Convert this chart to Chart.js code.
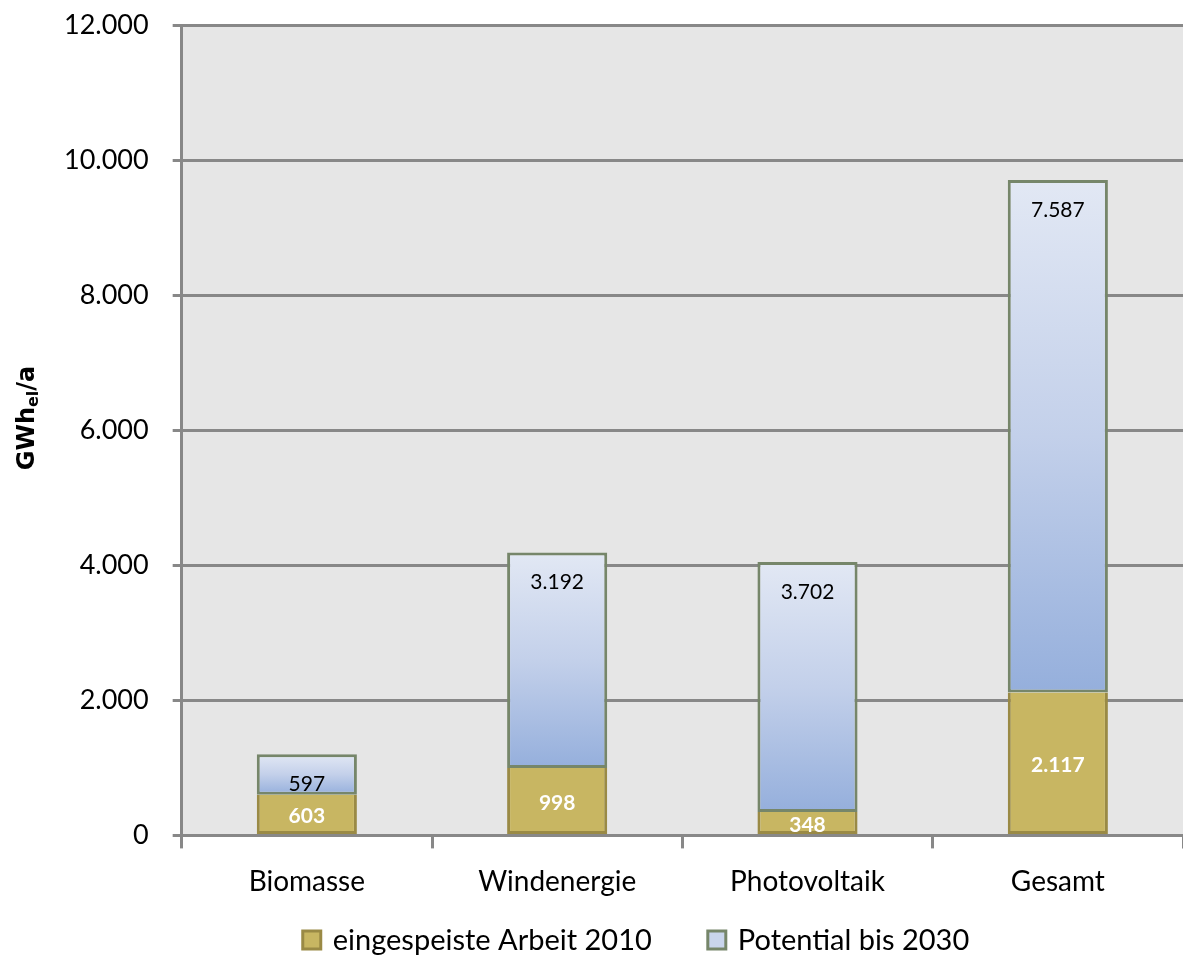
<!DOCTYPE html>
<html>
<head>
<meta charset="utf-8">
<script src="https://cdn.jsdelivr.net/npm/chart.js@4/dist/chart.umd.min.js"></script>
<style>
  html, body { margin: 0; padding: 0; background: #fff; }
  canvas { display: block; }
</style>
</head>
<body>
<canvas id="potential-chart" width="1183" height="956"></canvas>
<script>
// Einspeisung 2010 und Potential bis 2030 (GWh el / a)
const categories = ['Biomasse', 'Windenergie', 'Photovoltaik', 'Gesamt'];
const seriesNames = ['eingespeiste Arbeit 2010', 'Potential bis 2030'];
const arbeit2010 = [603, 998, 348, 2117];
const potential2030 = [597, 3192, 3702, 7587];
const yTicks = [0, 2000, 4000, 6000, 8000, 10000, 12000];

const fontFamily = 'Lato, "Open Sans", sans-serif';

function formatDe(v) {
    return v.toString().replace(/\B(?=(\d{3})+(?!\d))/g, '.');
}

// Per-bar vertical gradient for the potential segments
function potentialFill(context) {
    const chart = context.chart;
    const y = chart.scales.y;
    const i = context.dataIndex;
    if (!y || i === undefined || !chart.chartArea) return '#c5d3ec';
    const top = y.getPixelForValue(arbeit2010[i] + potential2030[i]);
    const bottom = y.getPixelForValue(arbeit2010[i]);
    const g = chart.ctx.createLinearGradient(0, top, 0, bottom);
    g.addColorStop(0, '#e2e8f4');
    g.addColorStop(0.5, '#c3d0ea');
    g.addColorStop(1, '#95afdc');
    return g;
}

// Value labels inside the segments
const valueLabels = {
    id: 'valueLabels',
    afterDatasetsDraw(chart) {
        const ctx = chart.ctx;
        ctx.save();
        ctx.textAlign = 'center';
        ctx.textBaseline = 'middle';
        chart.getDatasetMeta(0).data.forEach((bar, i) => {
            ctx.font = 'bold 21px ' + fontFamily;
            ctx.fillStyle = '#ffffff';
            ctx.fillText(formatDe(arbeit2010[i]), bar.x, (bar.y + bar.base) / 2 + 2);
        });
        chart.getDatasetMeta(1).data.forEach((bar, i) => {
            ctx.font = '21px ' + fontFamily;
            ctx.fillStyle = '#000000';
            ctx.fillText(formatDe(potential2030[i]), bar.x, bar.y + 30);
        });
        ctx.restore();
    }
};

// Y axis title with subscript "el"
const yTitle = {
    id: 'yTitle',
    afterDraw(chart) {
        const ctx = chart.ctx;
        ctx.save();
        ctx.translate(27, 418);
        ctx.rotate(-Math.PI / 2);
        ctx.fillStyle = '#000';
        ctx.textBaseline = 'alphabetic';
        const main = 'bold 24px "DejaVu Sans", sans-serif';
        const sub = 'bold 16px "DejaVu Sans", sans-serif';
        ctx.font = main;
        const w1 = ctx.measureText('GWh').width;
        ctx.font = sub;
        const w2 = ctx.measureText('el').width;
        ctx.font = main;
        const w3 = ctx.measureText('/a').width;
        let x = -(w1 + w2 + w3) / 2;
        ctx.fillText('GWh', x, 7);
        x += w1;
        ctx.font = sub;
        ctx.fillText('el', x, 11);
        x += w2;
        ctx.font = main;
        ctx.fillText('/a', x, 7);
        ctx.restore();
    }
};

// Legend drawn below the axis labels
const bottomLegend = {
    id: 'bottomLegend',
    afterDraw(chart) {
        const ctx = chart.ctx;
        const fills = ['#c8b662', '#c9d5ec'];
        const strokes = ['#9a8a45', '#76866a'];
        const box = 18, textGap = 12, itemGap = 56, y = 940;
        ctx.save();
        ctx.font = '29px ' + fontFamily;
        const widths = seriesNames.map(n => box + textGap + ctx.measureText(n).width);
        const total = widths[0] + itemGap + widths[1];
        let x = 636 - total / 2;
        ctx.textBaseline = 'middle';
        ctx.textAlign = 'left';
        seriesNames.forEach((name, i) => {
            ctx.fillStyle = fills[i];
            ctx.fillRect(x, y - box / 2, box, box);
            ctx.strokeStyle = strokes[i];
            ctx.lineWidth = 3;
            ctx.strokeRect(x, y - box / 2, box, box);
            ctx.fillStyle = '#000';
            ctx.fillText(name, x + box + textGap, y + 1);
            x += widths[i] + itemGap;
        });
        ctx.restore();
    }
};

const plotBackground = {
    id: 'plotBackground',
    beforeDraw(chart) {
        const a = chart.chartArea;
        chart.ctx.save();
        chart.ctx.fillStyle = '#e6e6e6';
        chart.ctx.fillRect(a.left, a.top, a.right - a.left, a.bottom - a.top);
        chart.ctx.restore();
    }
};

const canvas = document.getElementById('potential-chart');
const chart = new Chart(canvas.getContext('2d'), {
    type: 'bar',
    data: {
        labels: categories,
        datasets: [
            {
                label: seriesNames[0],
                data: arbeit2010,
                backgroundColor: '#c8b662',
                borderColor: '#9a8a45',
                borderWidth: 3,
                borderSkipped: 'end',
                barPercentage: 0.4,
                categoryPercentage: 1.0
            },
            {
                label: seriesNames[1],
                data: potential2030,
                backgroundColor: potentialFill,
                borderColor: '#76866a',
                borderWidth: 3,
                borderSkipped: false,
                barPercentage: 0.4,
                categoryPercentage: 1.0
            }
        ]
    },
    options: {
        responsive: false,
        maintainAspectRatio: false,
        animation: false,
        layout: { padding: { top: 0, right: 0, left: 40, bottom: 40 } },
        scales: {
            x: {
                stacked: true,
                grid: {
                    offset: true,
                    drawOnChartArea: false,
                    color: '#888888',
                    lineWidth: 3,
                    tickLength: 13
                },
                border: { display: false },
                ticks: { color: '#000', font: { family: fontFamily, size: 28 }, padding: 17 }
            },
            y: {
                stacked: true,
                min: 0,
                max: 12000,
                afterBuildTicks(axis) {
                    axis.ticks = yTicks.map(v => ({ value: v }));
                },
                afterFit(axis) {
                    axis.paddingTop = 25;
                },
                grid: { color: '#888888', lineWidth: 3, tickLength: 9 },
                border: { display: true, color: '#888888', width: 3 },
                ticks: {
                    color: '#000',
                    font: { family: fontFamily, size: 27 },
                    padding: 24,
                    callback: v => formatDe(v)
                }
            }
        },
        plugins: {
            legend: { display: false },
            tooltip: { enabled: false }
        }
    },
    plugins: [plotBackground, valueLabels, yTitle, bottomLegend]
});
</script>
</body>
</html>
